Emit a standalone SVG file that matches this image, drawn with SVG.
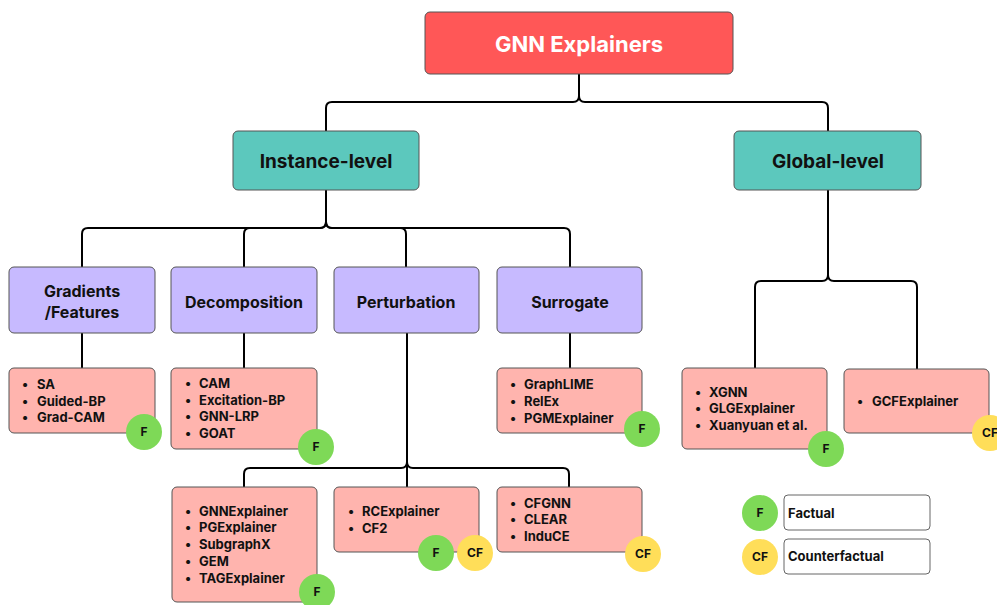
<svg xmlns="http://www.w3.org/2000/svg" width="997" height="605" viewBox="0 0 997 605">
<style>
text{font-family:Inter,"Noto Sans","Liberation Sans",sans-serif;font-weight:700;fill:#111}
.box{stroke:#555;stroke-width:1}
.root{fill:#FF5757}
.lvl{fill:#5CC8BD}
.cat{fill:#C7BAFF}
.leaf{fill:#FFB4AE}
.f{fill:#7ED957}
.cf{fill:#FFDE59}
.leg{fill:#fff;stroke:#666;stroke-width:1}
.t1{font-size:22px;fill:#fff;text-anchor:middle}
.t2{font-size:19px;text-anchor:middle}
.t3{font-size:16px;text-anchor:middle}
.li{font-size:13px}
.bd{font-size:12px;text-anchor:middle}
.lg{font-size:13px}
.con{fill:none;stroke:#000;stroke-width:2}
</style>
<g id="connectors" class="con">
<path d="M579,74 V96 Q579,102 573,102 H332 Q326,102 326,108 V131"/>
<path d="M579,74 V96 Q579,102 585,102 H822 Q828,102 828,108 V131"/>
<path d="M326,190 V222 Q326,228 320,228 H88 Q82,228 82,234 V267"/>
<path d="M326,190 V222 Q326,228 320,228 H250 Q244,228 244,234 V267"/>
<path d="M326,190 V222 Q326,228 332,228 H400 Q406,228 406,234 V267"/>
<path d="M326,190 V222 Q326,228 332,228 H564 Q570,228 570,234 V267"/>
<path d="M82,333 V368"/>
<path d="M244,333 V368"/>
<path d="M570,333 V368"/>
<path d="M407,333 V462 Q407,468 401,468 H250 Q244,468 244,474 V487"/>
<path d="M407,333 V487"/>
<path d="M407,333 V462 Q407,468 413,468 H563 Q569,468 569,474 V487"/>
<path d="M828,190 V275 Q828,281 822,281 H761 Q755,281 755,287 V368"/>
<path d="M828,190 V275 Q828,281 834,281 H911 Q917,281 917,287 V369"/>
</g>
<g id="root"><rect class="box root" x="425" y="12" width="308" height="62" rx="5"/><text class="t1" x="579" y="52">GNN Explainers</text></g>
<g id="instance"><rect class="box lvl" x="233" y="131" width="186" height="59" rx="5"/><text class="t2" x="326" y="168">Instance-level</text></g>
<g id="global"><rect class="box lvl" x="734" y="131" width="187" height="59" rx="5"/><text class="t2" x="828" y="168">Global-level</text></g>
<g id="gradients"><rect class="box cat" x="9" y="267" width="146" height="66" rx="5"/><text class="t3" x="82" y="297">Gradients</text><text class="t3" x="82" y="318">/Features</text></g>
<g id="decomposition"><rect class="box cat" x="171" y="267" width="146" height="66" rx="5"/><text class="t3" x="244" y="308">Decomposition</text></g>
<g id="perturbation"><rect class="box cat" x="334" y="267" width="145" height="66" rx="5"/><text class="t3" x="406" y="308">Perturbation</text></g>
<g id="surrogate"><rect class="box cat" x="497" y="267" width="145" height="66" rx="5"/><text class="t3" x="570" y="308">Surrogate</text></g>
<g id="leaf-grad"><rect class="box leaf" x="9" y="368" width="146" height="65" rx="5"/>
<text class="li" x="22" y="389">•</text><text class="li" x="37" y="389">SA</text>
<text class="li" x="22" y="406">•</text><text class="li" x="37" y="406">Guided-BP</text>
<text class="li" x="22" y="422">•</text><text class="li" x="37" y="422">Grad-CAM</text>
<circle class="f" cx="144" cy="432" r="18"/><text class="bd" x="144" y="436">F</text></g>
<g id="leaf-decomp"><rect class="box leaf" x="171" y="368" width="146" height="81" rx="5"/>
<text class="li" x="185" y="388">•</text><text class="li" x="199" y="388">CAM</text>
<text class="li" x="185" y="405">•</text><text class="li" x="199" y="405">Excitation-BP</text>
<text class="li" x="185" y="421">•</text><text class="li" x="199" y="421">GNN-LRP</text>
<text class="li" x="185" y="438">•</text><text class="li" x="199" y="438">GOAT</text>
<circle class="f" cx="316" cy="447" r="18"/><text class="bd" x="316" y="451">F</text></g>
<g id="leaf-surr"><rect class="box leaf" x="497" y="368" width="145" height="65" rx="5"/>
<text class="li" x="510" y="389">•</text><text class="li" x="524" y="389">GraphLIME</text>
<text class="li" x="510" y="406">•</text><text class="li" x="524" y="406">RelEx</text>
<text class="li" x="510" y="423">•</text><text class="li" x="524" y="423">PGMExplainer</text>
<circle class="f" cx="642" cy="429" r="18"/><text class="bd" x="642" y="433">F</text></g>
<g id="leaf-gnnexp"><rect class="box leaf" x="172" y="487" width="145" height="115" rx="5"/>
<text class="li" x="185" y="516">•</text><text class="li" x="199" y="516">GNNExplainer</text>
<text class="li" x="185" y="532">•</text><text class="li" x="199" y="532">PGExplainer</text>
<text class="li" x="185" y="549">•</text><text class="li" x="199" y="549">SubgraphX</text>
<text class="li" x="185" y="566">•</text><text class="li" x="199" y="566">GEM</text>
<text class="li" x="185" y="583">•</text><text class="li" x="199" y="583">TAGExplainer</text>
<circle class="f" cx="317" cy="592" r="18"/><text class="bd" x="317" y="596">F</text></g>
<g id="leaf-rc"><rect class="box leaf" x="334" y="487" width="145" height="65" rx="5"/>
<text class="li" x="348" y="516">•</text><text class="li" x="362" y="516">RCExplainer</text>
<text class="li" x="348" y="533">•</text><text class="li" x="362" y="533">CF2</text>
<circle class="f" cx="436" cy="553" r="18"/><text class="bd" x="436" y="557">F</text>
<circle class="cf" cx="475" cy="553" r="18"/><text class="bd" x="475" y="557">CF</text></g>
<g id="leaf-cfgnn"><rect class="box leaf" x="497" y="487" width="145" height="65" rx="5"/>
<text class="li" x="510" y="508">•</text><text class="li" x="524" y="508">CFGNN</text>
<text class="li" x="510" y="524">•</text><text class="li" x="524" y="524">CLEAR</text>
<text class="li" x="510" y="541">•</text><text class="li" x="524" y="541">InduCE</text>
<circle class="cf" cx="643" cy="554" r="18"/><text class="bd" x="643" y="558">CF</text></g>
<g id="leaf-xgnn"><rect class="box leaf" x="682" y="368" width="145" height="81" rx="5"/>
<text class="li" x="695" y="397">•</text><text class="li" x="709" y="397">XGNN</text>
<text class="li" x="695" y="413">•</text><text class="li" x="709" y="413">GLGExplainer</text>
<text class="li" x="695" y="430">•</text><text class="li" x="709" y="430">Xuanyuan et al.</text>
<circle class="f" cx="826" cy="449" r="18"/><text class="bd" x="826" y="453">F</text></g>
<g id="leaf-gcf"><rect class="box leaf" x="844" y="369" width="145" height="64" rx="5"/>
<text class="li" x="857" y="406">•</text><text class="li" x="872" y="406">GCFExplainer</text>
<circle class="cf" cx="990" cy="433" r="18"/><text class="bd" x="990" y="437">CF</text></g>
<g id="legend-f"><circle class="f" cx="760" cy="513" r="18"/><text class="bd" x="760" y="517">F</text>
<rect class="leg" x="784" y="495" width="146" height="35" rx="4"/><text class="lg" x="788" y="518">Factual</text></g>
<g id="legend-cf"><circle class="cf" cx="760" cy="557" r="18"/><text class="bd" x="760" y="561">CF</text>
<rect class="leg" x="784" y="539" width="146" height="35" rx="4"/><text class="lg" x="788" y="561">Counterfactual</text></g>
</svg>
